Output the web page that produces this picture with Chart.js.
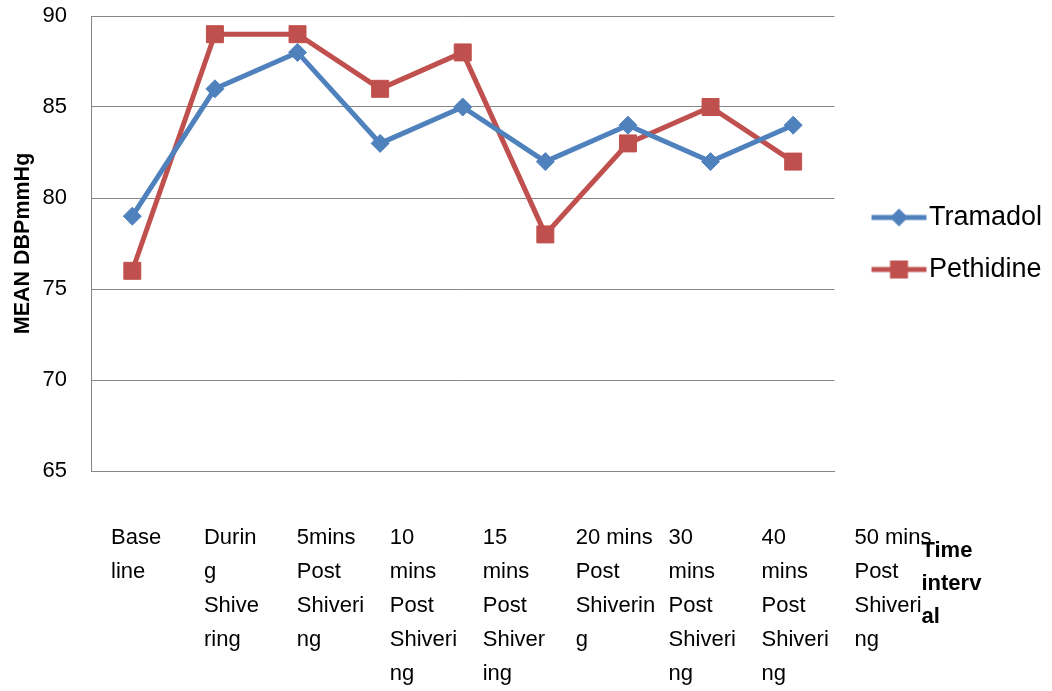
<!DOCTYPE html>
<html>
<head>
<meta charset="utf-8">
<script src="https://cdn.jsdelivr.net/npm/chart.js@4/dist/chart.umd.min.js"></script>
<style>
  html, body { margin: 0; padding: 0; background: #fff; }
  #wrap { width: 1052px; height: 691px; position: relative; }
</style>
</head>
<body>
<div id="wrap"><canvas id="c"></canvas></div>
<script>
// ---- data ----
const categories = ["Base line", "During Shivering", "5mins Post Shivering", "10 mins Post Shivering",
  "15 mins Post Shivering", "20 mins Post Shivering", "30 mins Post Shivering",
  "40 mins Post Shivering", "50 mins Post Shivering"];
const tickLabels = [
  ["Base", "line"],
  ["Durin", "g", "Shive", "ring"],
  ["5mins", "Post", "Shiveri", "ng"],
  ["10", "mins", "Post", "Shiveri", "ng"],
  ["15", "mins", "Post", "Shiver", "ing"],
  ["20 mins", "Post", "Shiverin", "g"],
  ["30", "mins", "Post", "Shiveri", "ng"],
  ["40", "mins", "Post", "Shiveri", "ng"],
  ["50 mins", "Post", "Shiveri", "ng"]
];
const tramadol = [79, 86, 88, 83, 85, 82, 84, 82, 84];
const pethidine = [76, 89, 89, 86, 88, 78, 83, 85, 82];
const yTitle = "MEAN DBPmmHg";
const xTitleLines = ["Time", "interv", "al"];

const BLUE = "#4F81BD";
const RED = "#C0504D";
const GRID = "#868686";
const FONT = "'Liberation Sans', Arial, sans-serif";

// legend icon: line with marker; box width PW, visible line from LS to LS+LL
const PW = 56, LS = 12, LL = 55, IW = 80;
function legendIcon(color, shape) {
  const c = document.createElement("canvas");
  c.width = IW; c.height = 24;
  const g = c.getContext("2d");
  const off = IW / 2 - PW / 2; // image x of box-left
  const x0 = off + LS, x1 = off + LS + LL, cx = (x0 + x1) / 2;
  g.strokeStyle = color; g.lineWidth = 5; g.lineCap = "butt";
  g.beginPath(); g.moveTo(x0, 12); g.lineTo(x1, 12); g.stroke();
  g.fillStyle = color;
  if (shape === "diamond") {
    g.beginPath(); g.moveTo(cx, 3); g.lineTo(cx + 9, 12); g.lineTo(cx, 21); g.lineTo(cx - 9, 12); g.closePath(); g.fill();
  } else {
    g.fillRect(cx - 9, 3, 18, 18);
  }
  return c;
}
const icons = [legendIcon(BLUE, "diamond"), legendIcon(RED, "square")];

const timeIntervalPlugin = {
  id: "timeInterval",
  afterDraw(chart) {
    const ctx = chart.ctx;
    const a = chart.chartArea;
    ctx.save();
    ctx.font = "bold 22px " + FONT;
    ctx.fillStyle = "#000";
    ctx.textBaseline = "middle";
    ctx.textAlign = "left";
    xTitleLines.forEach((t, i) => ctx.fillText(t, a.right + 87, a.bottom + 80 + i * 33));
    ctx.restore();
  }
};

new Chart(document.getElementById("c"), {
  type: "line",
  data: {
    labels: categories,
    datasets: [
      { label: "Tramadol", data: tramadol, borderColor: BLUE, backgroundColor: BLUE,
        borderWidth: 5, pointStyle: "rectRot", pointRadius: 9, pointHoverRadius: 9,
        pointBorderWidth: 1, pointBackgroundColor: BLUE, pointBorderColor: BLUE, tension: 0 },
      { label: "Pethidine", data: pethidine, borderColor: RED, backgroundColor: RED,
        borderWidth: 5, pointStyle: "rect", pointRadius: 12, pointHoverRadius: 12,
        pointBorderWidth: 1, pointBackgroundColor: RED, pointBorderColor: RED, tension: 0 }
    ]
  },
  options: {
    responsive: true,
    maintainAspectRatio: false,
    animation: false,
    events: [],
    layout: { padding: { top: 0, left: 9, right: 0, bottom: 0 } },
    plugins: {
      legend: {
        position: "right",
        align: "center",
        fullSize: false,
        labels: {
          usePointStyle: true,
          pointStyleWidth: PW,
          padding: 25,
          color: "#000",
          font: { family: FONT, size: 27 },
          generateLabels(chart) {
            const items = Chart.defaults.plugins.legend.labels.generateLabels(chart);
            items.forEach((it, i) => { it.pointStyle = icons[i]; });
            return items;
          }
        }
      },
      tooltip: { enabled: false },
      title: { display: false }
    },
    scales: {
      x: {
        type: "category",
        offset: true,
        grid: { display: false },
        border: { display: true, color: GRID, width: 1 },
        ticks: { display: false },
        afterFit(s) { s.height = 0; }
      },
      x2: {
        type: "category",
        position: "bottom",
        labels: tickLabels,
        offset: false,
        grid: { display: false },
        border: { display: false },
        ticks: {
          align: "start",
          labelOffset: 20,
          padding: 42,
          autoSkip: false,
          maxRotation: 0,
          minRotation: 0,
          color: "#000",
          font: { family: FONT, size: 22, lineHeight: 1.545 }
        },
        afterFit(s) { s.height = 220; }
      },
      y: {
        min: 65,
        max: 90,
        ticks: { stepSize: 5, padding: 24, color: "#000", font: { family: FONT, size: 22 } },
        grid: { color: GRID, lineWidth: 1, drawTicks: false },
        border: { display: true, color: GRID, width: 1 },
        title: {
          display: true, text: yTitle, color: "#000",
          font: { family: FONT, size: 21.5, weight: "bold" },
          padding: { top: 1, bottom: 7 }
        },
        afterFit(s) { s.width = 82; s.paddingTop = 16; s.paddingBottom = 13; }
      }
    }
  },
  plugins: [timeIntervalPlugin]
});
</script>
</body>
</html>
